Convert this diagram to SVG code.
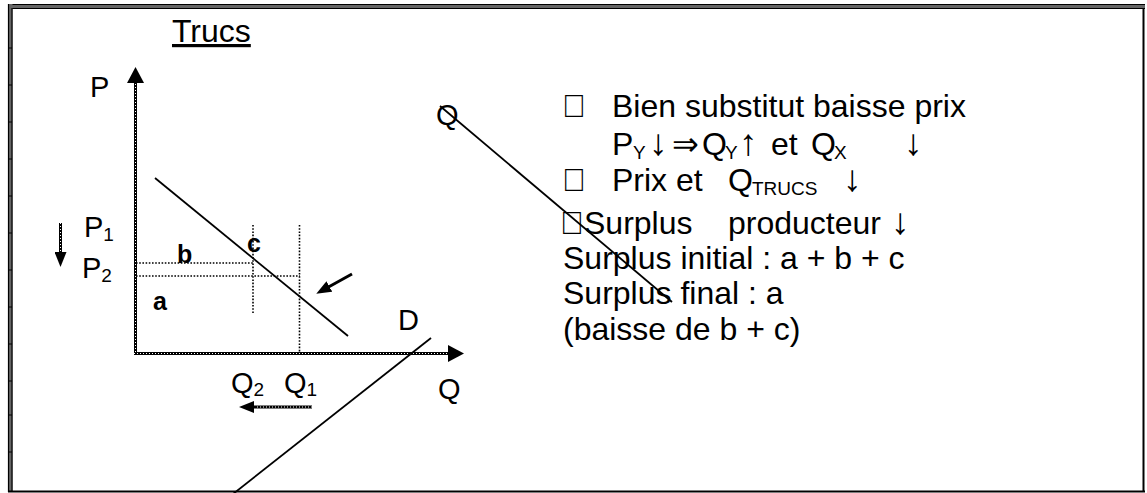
<svg xmlns="http://www.w3.org/2000/svg" width="1147" height="493" viewBox="0 0 1147 493">
<style>
text{font-family:"Liberation Sans",Arial,"DejaVu Sans",sans-serif;fill:#000}
.big{font-size:32px}
.lbl{font-size:29px}
.sub{font-size:19px}
.arr{font-size:37px}
.bold{font-size:25px;font-weight:bold}
.axis{stroke:#000;stroke-width:3;fill:none}
.dots{stroke:#fff;stroke-width:1;stroke-dasharray:1 2;fill:none}
.guide{stroke:#000;stroke-width:1.6;stroke-dasharray:1.6 1.6;fill:none}
.thin{stroke:#000;stroke-width:1.8;fill:none}
.frame{stroke:#000;fill:none}
.tick{stroke:#000;stroke-width:1}
</style>
<defs>
<marker id="hLarge" viewBox="0 0 16 17" refX="1" refY="8.5" markerWidth="16" markerHeight="17" markerUnits="userSpaceOnUse" orient="auto"><path d="M0,0 L16,8.5 L0,17 z" fill="#000"/></marker>
<marker id="hSmall" viewBox="0 0 15 12" refX="1" refY="6" markerWidth="15" markerHeight="12" markerUnits="userSpaceOnUse" orient="auto"><path d="M0,0 L15,6 L0,12 z" fill="#000"/></marker>
</defs>
<rect width="1147" height="493" fill="#fff"/>
<g id="frame">
<rect x="8" y="4" width="1137" height="5" fill="#666"/>
<line class="frame" x1="8" y1="4.5" x2="1145" y2="4.5" stroke-width="1.2"/>
<line class="frame" x1="8" y1="8.5" x2="1145" y2="8.5" stroke-width="1.2"/>
<rect x="8" y="4" width="4.5" height="488" fill="#666"/>
<line class="frame" x1="8.5" y1="4" x2="8.5" y2="492" stroke-width="1.2"/>
<line class="frame" x1="12" y1="8" x2="12" y2="492" stroke-width="1.2"/>
<line class="frame" x1="1143.5" y1="8" x2="1143.5" y2="492" stroke-width="2"/>
<line class="frame" x1="8" y1="491.5" x2="1145" y2="491.5" stroke-width="2"/>
<g class="tick">
<line x1="8" y1="48" x2="12" y2="48"/><line x1="8" y1="85" x2="12" y2="85"/><line x1="8" y1="122" x2="12" y2="122"/><line x1="8" y1="159" x2="12" y2="159"/><line x1="8" y1="196" x2="12" y2="196"/><line x1="8" y1="233" x2="12" y2="233"/><line x1="8" y1="270" x2="12" y2="270"/><line x1="8" y1="307" x2="12" y2="307"/><line x1="8" y1="344" x2="12" y2="344"/><line x1="8" y1="381" x2="12" y2="381"/><line x1="8" y1="415" x2="12" y2="415"/><line x1="8" y1="452" x2="12" y2="452"/>
</g>
</g>
<g id="connectors">
<line class="axis" x1="135.5" y1="355" x2="135.5" y2="82" marker-end="url(#hLarge)"/>
<line class="dots" x1="135.5" y1="355" x2="135.5" y2="84"/>
<line class="axis" x1="134" y1="353.5" x2="449" y2="353.5" marker-end="url(#hLarge)"/>
<line class="dots" x1="134" y1="353.5" x2="447" y2="353.5"/>
<line class="thin" x1="155" y1="178" x2="348" y2="336"/>
<line class="guide" x1="136" y1="263" x2="253" y2="263"/>
<line class="guide" x1="136" y1="276" x2="300" y2="276"/>
<line class="guide" x1="253" y1="225" x2="253" y2="313"/>
<line class="guide" x1="299.5" y1="225" x2="299.5" y2="352"/>
<line class="thin" x1="233" y1="494" x2="431" y2="338"/>
<line class="thin" x1="440" y1="106" x2="672" y2="302"/>
<line class="axis" x1="60.5" y1="223" x2="60.5" y2="253" marker-end="url(#hSmall)"/>
<line class="dots" x1="60.5" y1="223" x2="60.5" y2="251"/>
<line class="axis" x1="312" y1="407" x2="253" y2="407" marker-end="url(#hSmall)"/>
<line class="dots" x1="312" y1="407" x2="255" y2="407"/>
<line class="axis" x1="352" y1="274" x2="328.5" y2="287" marker-end="url(#hSmall)"/>
</g>
<g id="title"><text class="big" x="172" y="42" text-decoration="underline">Trucs</text></g>
<g id="axis-labels">
<text class="lbl" x="90" y="97">P</text>
<text class="lbl" x="84" y="237">P<tspan class="sub" dy="4">1</tspan></text>
<text class="lbl" x="82" y="278">P<tspan class="sub" dy="4">2</tspan></text>
<text class="lbl" x="231" y="393">Q<tspan class="sub" dy="3">2</tspan></text>
<text class="lbl" x="284" y="393">Q<tspan class="sub" dy="3">1</tspan></text>
<text class="lbl" x="438" y="399">Q</text>
<text class="lbl" x="398" y="330">D</text>
<text class="lbl" x="436" y="125">Q</text>
</g>
<g id="areas">
<text class="bold" x="153" y="310">a</text>
<text class="bold" x="177" y="263">b</text>
<text class="bold" x="247" y="252">c</text>
</g>
<g id="explanation">
<text class="big" x="562" y="117">&#xF0D8;</text>
<text class="big" x="612" y="117">Bien substitut baisse prix</text>
<text class="big" x="612" y="155">P<tspan class="sub" x="633" dy="4">Y</tspan><tspan class="arr" x="649" dy="-4">↓</tspan><tspan x="672">⇒</tspan><tspan x="702">Q</tspan><tspan class="sub" x="725" dy="4">Y</tspan><tspan class="arr" x="739" dy="-4">↑</tspan><tspan x="771">et</tspan><tspan x="811">Q</tspan><tspan class="sub" x="834" dy="4">X</tspan><tspan class="arr" x="904" dy="-4">↓</tspan></text>
<text class="big" x="562" y="191">&#xF0D8;</text>
<text class="big" x="612" y="191">Prix et<tspan x="728">Q</tspan><tspan class="sub" x="752" dy="4">TRUCS</tspan><tspan class="arr" x="843" dy="-4">↓</tspan></text>
<text class="big" x="560" y="234">&#xF0D8;</text>
<text class="big" x="584" y="234">Surplus<tspan x="728">producteur</tspan><tspan class="arr" x="891">↓</tspan></text>
<text class="big" x="563" y="269">Surplus initial : a + b + c</text>
<text class="big" x="563" y="304">Surplus final : a</text>
<text class="big" x="563" y="340">(baisse de b + c)</text>
</g>
</svg>
